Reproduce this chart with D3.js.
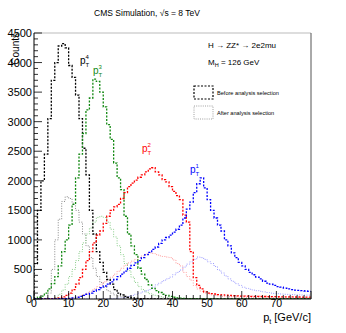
<!DOCTYPE html>
<html><head><meta charset="utf-8">
<script src="https://cdn.jsdelivr.net/npm/d3@7"></script>
<style>body{margin:0;background:#fff;}svg{display:block;font-family:"Liberation Sans",Arial,sans-serif;}</style>
</head><body>
<svg id="c" width="346" height="333"></svg>
<script>
const xTicks = [0,10,20,30,40,50,60,70];
const yTicks = [0,500,1000,1500,2000,2500,3000,3500,4000,4500];
const binEdgesMax = 80;

const pt4Before = [600,1500,2000,2450,3050,3700,4000,4280,4320,4250,3950,3750,3450,3050,2550,2100,1500,1100,800,620,450,330,250,160,100,70,45,30,20,12,8,5,3,2,1,0,0,0,0,0,0,0,0,0,0,0,0,0,0,0,0,0,0,0,0,0,0,0,0,0,0,0,0,0,0,0,0,0,0,0,0,0,0,0,0,0,0,0,0,0];
const pt3Before = [10,30,50,100,170,260,380,560,800,1000,1250,1600,2050,2450,2800,3200,3400,3720,3680,3500,3250,2950,2700,2300,2050,1850,1400,1100,900,750,520,420,330,240,180,140,110,80,60,45,30,20,15,10,8,6,5,4,3,2,2,1,1,1,0,0,0,0,0,0,0,0,0,0,0,0,0,0,0,0,0,0,0,0,0,0,0,0,0,0];
const pt2Before = [0,0,2,3,4,5,10,20,35,60,100,160,250,360,500,650,800,950,1080,1150,1280,1400,1500,1560,1600,1700,1800,1900,1960,2010,2060,2100,2150,2200,2220,2150,2100,2020,1980,1900,1820,1750,1680,1420,1300,800,360,230,170,120,100,90,85,75,70,65,60,55,52,50,48,47,46,45,44,43,42,41,40,39,38,37,36,35,35,34,34,33,33,32];
const pt1Before = [0,0,0,0,0,0,2,4,6,8,10,20,30,45,60,80,100,130,160,190,220,250,290,330,380,420,470,520,570,610,650,700,750,790,840,880,940,1000,1040,1080,1130,1180,1250,1370,1520,1640,1800,1950,2050,1880,1680,1500,1370,1250,1150,1000,900,780,700,620,560,500,450,410,370,340,300,270,250,230,210,200,185,170,160,150,145,140,135,130];

const pt4After = [0,0,0,0,100,500,1000,1350,1650,1730,1700,1620,1500,1300,1100,900,700,520,380,280,200,140,100,70,50,35,25,18,12,8,5,3,2,1,0,0,0,0,0,0,0,0,0,0,0,0,0,0,0,0,0,0,0,0,0,0,0,0,0,0,0,0,0,0,0,0,0,0,0,0,0,0,0,0,0,0,0,0,0,0];
const pt3After = [0,0,0,0,0,0,30,80,150,250,380,500,650,800,950,1100,1200,1300,1380,1400,1380,1300,1180,1050,900,750,600,480,370,280,210,160,120,90,70,55,40,30,22,16,12,9,7,5,4,3,2,2,1,1,0,0,0,0,0,0,0,0,0,0,0,0,0,0,0,0,0,0,0,0,0,0,0,0,0,0,0,0,0,0];
const pt2After = [0,0,0,0,0,0,0,0,0,0,10,20,30,50,70,100,130,170,210,250,290,330,370,420,470,520,570,610,640,670,700,730,760,780,770,750,730,720,710,700,660,600,560,450,380,320,230,170,130,100,85,70,60,50,45,40,38,35,33,30,29,28,27,26,25,24,23,22,22,21,21,20,20,20,19,19,18,18,18,17];
const pt1After = [0,0,0,0,0,0,0,0,0,0,0,0,0,0,0,0,0,0,0,0,0,2,5,10,15,20,30,45,60,80,100,120,140,160,200,240,270,310,340,370,410,450,490,540,590,630,670,710,700,670,630,600,550,490,440,390,340,300,260,230,200,180,165,150,140,130,120,110,100,95,90,85,80,78,75,72,70,68,66,65];

const beforeColors = ["#000000","#118811","#ff0000","#0000ff"];
const afterColors = ["#888888","#88cc88","#ff9999","#9999ff"];

const svg = d3.select("#c");
const L=34, R=311, T=33, B=299;
const x = d3.scaleLinear().domain([0,binEdgesMax]).range([L,R]);
const y = d3.scaleLinear().domain([0,4500]).range([B,T]);

svg.append("defs").append("clipPath").attr("id","clip")
  .append("rect").attr("x",L).attr("y",T).attr("width",R-L).attr("height",B-T);

function stepPts(vals){
  const pts=[[0,0]];
  vals.forEach((v,i)=>pts.push([i,v]));
  pts.push([vals.length, vals[vals.length-1]]);
  return pts;
}
const line = d3.line().x(d=>x(d[0])).y(d=>y(d[1])).curve(d3.curveStepAfter);
const g = svg.append("g").attr("clip-path","url(#clip)");

const after=[pt4After,pt3After,pt2After,pt1After];
const before=[pt4Before,pt3Before,pt2Before,pt1Before];
after.forEach((s,i)=>{
  g.append("path").attr("d",line(stepPts(s))).attr("fill","none")
   .attr("stroke",afterColors[i]).attr("stroke-width",1).attr("stroke-dasharray","1,1.5");
});
before.forEach((s,i)=>{
  g.append("path").attr("d",line(stepPts(s))).attr("fill","none")
   .attr("stroke",beforeColors[i]).attr("stroke-width",1.3).attr("stroke-dasharray","2,1.5");
});

svg.append("line").attr("x1",L).attr("x2",R).attr("y1",T).attr("y2",T).attr("stroke","#bbb");
svg.append("line").attr("x1",R).attr("x2",R).attr("y1",T).attr("y2",B).attr("stroke","#555");

const ax = svg.append("g");
ax.append("line").attr("x1",L).attr("x2",R).attr("y1",B).attr("y2",B).attr("stroke","#000");
ax.append("line").attr("x1",L).attr("x2",L).attr("y1",T).attr("y2",B).attr("stroke","#000");
d3.range(0,81,2).forEach(v=>{
  const major = v%10===0;
  ax.append("line").attr("x1",x(v)).attr("x2",x(v)).attr("y1",B).attr("y2",B-(major?8:4)).attr("stroke","#000").attr("stroke-width",0.8);
});
d3.range(0,4501,100).forEach(v=>{
  const major = v%500===0;
  ax.append("line").attr("x1",L).attr("x2",L+(major?8:4)).attr("y1",y(v)).attr("y2",y(v)).attr("stroke","#000").attr("stroke-width",0.8);
});
xTicks.forEach(v=>{
  ax.append("text").attr("x",x(v)).attr("y",307).attr("text-anchor","middle").attr("font-size",10.5).text(v);
});
yTicks.forEach(v=>{
  ax.append("text").attr("x",32).attr("y",y(v)+4).attr("text-anchor","end").attr("font-size",11).text(v);
});

svg.append("text").attr("transform","translate(19,33) rotate(-90)").attr("text-anchor","end").attr("font-size",10).text("Counts");
const xt = svg.append("text").attr("x",311).attr("y",321).attr("text-anchor","end").attr("font-size",11);
xt.append("tspan").text("p");
xt.append("tspan").attr("font-size",7).attr("dy",3).text("t");
xt.append("tspan").attr("dy",-3).text(" [GeV/c]");

svg.append("text").attr("x",147).attr("y",16).attr("text-anchor","middle").attr("font-size",8.5).text("CMS Simulation, \u221As = 8 TeV");

svg.append("text").attr("x",208).attr("y",48).attr("font-size",8).text("H \u2192 ZZ* \u2192 2e2mu");
const mh = svg.append("text").attr("x",208).attr("y",65).attr("font-size",8);
mh.append("tspan").text("M");
mh.append("tspan").attr("font-size",5.5).attr("dy",2).text("H");
mh.append("tspan").attr("dy",-2).text(" = 126 GeV");

svg.append("rect").attr("x",194).attr("y",86).attr("width",19).attr("height",13).attr("fill","none")
  .attr("stroke","#000").attr("stroke-width",1.2).attr("stroke-dasharray","2,1.5");
svg.append("text").attr("x",217).attr("y",95).attr("font-size",5.6).text("Before analysis selection");
svg.append("rect").attr("x",194).attr("y",106).attr("width",19).attr("height",13).attr("fill","none")
  .attr("stroke","#888").attr("stroke-width",0.8).attr("stroke-dasharray","1,1.2");
svg.append("text").attr("x",217).attr("y",115).attr("font-size",5.6).text("After analysis selection");

const labels = [{t:"4",x:80,y:64,c:"#000"},{t:"3",x:93,y:74,c:"#118811"},{t:"2",x:142,y:152,c:"#ff0000"},{t:"1",x:190,y:173,c:"#0000ff"}];
labels.forEach(l=>{
  const tx = svg.append("text").attr("x",l.x).attr("y",l.y).attr("font-size",10).attr("fill",l.c);
  tx.append("tspan").text("p");
  tx.append("tspan").attr("font-size",6).attr("x",l.x+5.5).attr("dy",3).text("T");
  tx.append("tspan").attr("font-size",6).attr("x",l.x+5.5).attr("dy",-8).text(l.t);
});
</script>
</body></html>
